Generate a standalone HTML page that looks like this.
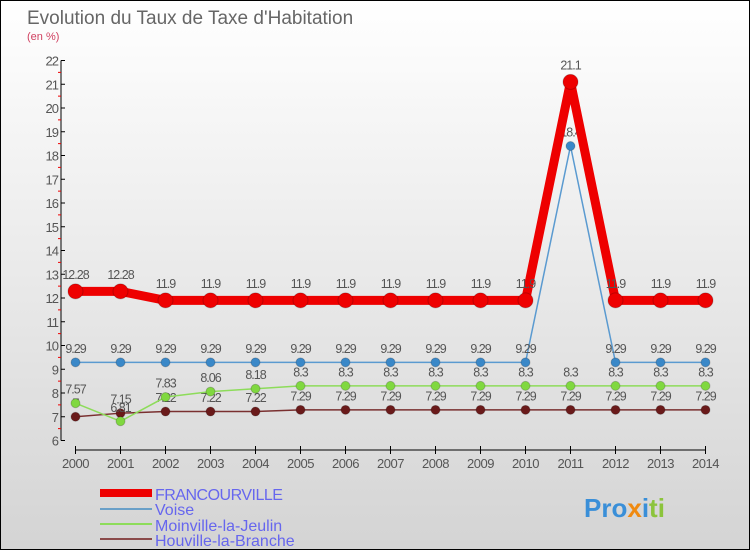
<!DOCTYPE html>
<html><head><meta charset="utf-8"><style>
body{margin:0;}
#c{position:relative;width:748px;height:548px;border:1px solid #000;background:linear-gradient(#fff,#d4d4d4);font-family:"Liberation Sans",sans-serif;overflow:hidden}
</style></head><body>
<div id="c">
<svg id="s" width="748" height="548" xmlns="http://www.w3.org/2000/svg">
<text x="26" y="23" font-size="19" fill="#666">Evolution du Taux de Taxe d'Habitation</text>
<text x="26" y="39" font-size="11" fill="#d04060">(en %)</text>
<g id="axes"></g><g id="series"></g>
<g>
<rect x="99" y="488" width="52" height="8" fill="#e00"/>
<text x="154" y="499" font-size="16" fill="#6666ee" letter-spacing="-0.5">FRANCOURVILLE</text>
<rect x="99" y="507" width="52" height="2" fill="#6aa0c8"/>
<text x="154" y="514" font-size="16" fill="#6666ee">Voise</text>
<rect x="99" y="522" width="52" height="2" fill="#8ddc5a"/>
<text x="154" y="530" font-size="16" fill="#6666ee">Moinville-la-Jeulin</text>
<rect x="99" y="537" width="52" height="2" fill="#8a4a4a"/>
<text x="154" y="545" font-size="16" fill="#6666ee">Houville-la-Branche</text>
</g>
<text x="583" y="516" font-size="26" font-weight="bold"><tspan fill="#3a8fd8">Pro</tspan><tspan fill="#f08a10">x</tspan><tspan fill="#3a8fd8">i</tspan><tspan fill="#8cc43c">ti</tspan></text>
</svg></div>
<script>
const years=[2000,2001,2002,2003,2004,2005,2006,2007,2008,2009,2010,2011,2012,2013,2014];
const francourville=[12.28,12.28,11.9,11.9,11.9,11.9,11.9,11.9,11.9,11.9,11.9,21.1,11.9,11.9,11.9];
const voise=[9.29,9.29,9.29,9.29,9.29,9.29,9.29,9.29,9.29,9.29,9.29,18.4,9.29,9.29,9.29];
const moinville=[7.57,6.81,7.83,8.06,8.18,8.3,8.3,8.3,8.3,8.3,8.3,8.3,8.3,8.3,8.3];
const houville=[7,7.15,7.22,7.22,7.22,7.29,7.29,7.29,7.29,7.29,7.29,7.29,7.29,7.29,7.29];
const yTicks=[6,7,8,9,10,11,12,13,14,15,16,17,18,19,20,21,22];
const NS='http://www.w3.org/2000/svg';
const xs=i=>74.5+i*45;
const ys=v=>439.5-(v-6)*23.75;
function mk(t,a,p){const e=document.createElementNS(NS,t);for(const k in a)e.setAttribute(k,a[k]);p.appendChild(e);return e;}
const ax=document.getElementById('axes');
const yl=mk('line',{x1:60,y1:ys(22),x2:60,y2:ys(6),stroke:'#000'},ax);


yTicks.forEach(v=>{
 mk('line',{x1:60,y1:ys(v),x2:64,y2:ys(v),stroke:'#000'},ax);
 if(v<22)mk('line',{x1:57,y1:ys(v+0.5),x2:60,y2:ys(v+0.5),stroke:'#e00'},ax);
 const t=mk('text',{x:57,y:ys(v)+5,'font-size':13,fill:'#555','text-anchor':'end','letter-spacing':'-1'},ax);
 t.textContent=v;
 
 
});
const xl=mk('line',{x1:xs(0),y1:449,x2:xs(14),y2:449,stroke:'#000'},ax);


years.forEach((y,i)=>{
 mk('line',{x1:xs(i),y1:445,x2:xs(i),y2:453,stroke:'#000'},ax);
 const t=mk('text',{x:xs(i),y:467,'font-size':13,fill:'#555','text-anchor':'middle','letter-spacing':'-0.5'},ax);
 t.textContent=y;
 
 
});
const sg=document.getElementById('series');
function draw(data,name,color,w,r,fill){
 const g=mk('g',{},sg);
 
 
 const pl=mk('polyline',{points:data.map((v,i)=>xs(i)+','+ys(v)).join(' '),fill:'none',stroke:color,'stroke-width':w},g);
 
 
 data.forEach((v,i)=>{
  const c=mk('circle',{cx:xs(i),cy:ys(v),r:r,fill:fill,stroke:'#0003'},g);
  
  
  const t=mk('text',{x:xs(i),y:ys(v)-(r+5),'font-size':12.5,fill:'#555','text-anchor':'middle','letter-spacing':'-1'},g);
  t.textContent=v;
  
  
 });
}
draw(houville,'houville','#7a3030',1.5,4.5,'#6a1a1a');
draw(moinville,'moinville','#8ddc5a',1.5,4.5,'#80d840');
draw(voise,'voise','#5a9ad0',1.5,4.5,'#3a88c8');
draw(francourville,'francourville','#e00',9,7.5,'#e00');
</script>
</body></html>
